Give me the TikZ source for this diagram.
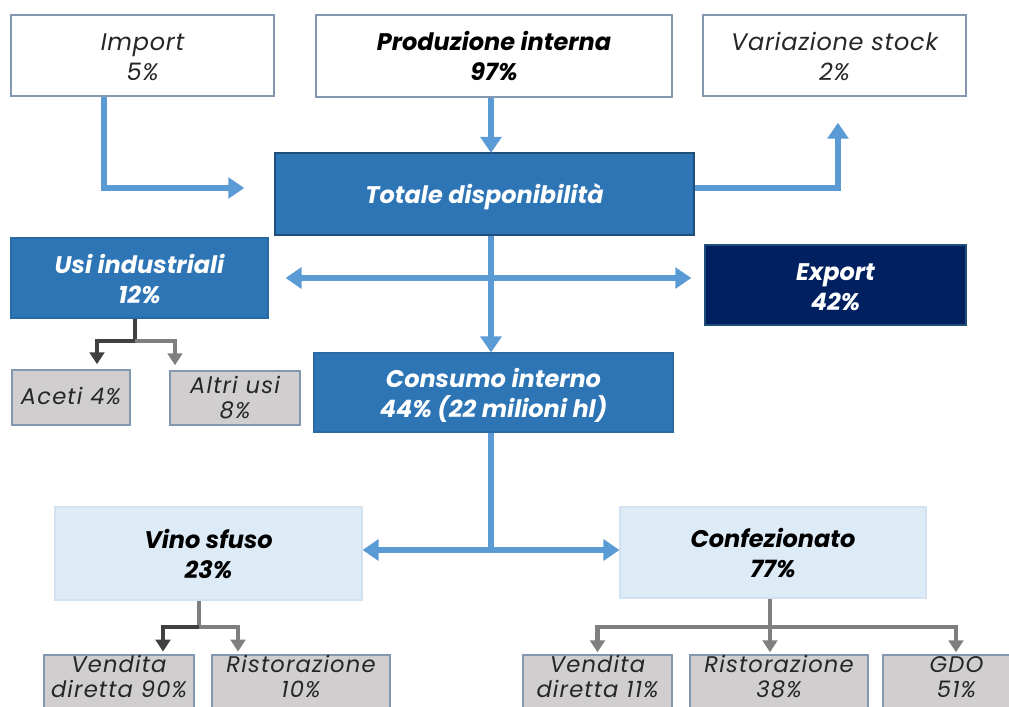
\documentclass[tikz,border=0pt]{standalone}
\usepackage{fontspec}
\setmainfont{Poppins}
\usetikzlibrary{arrows.meta}

\definecolor{flowblue}{HTML}{5B9BD5}
\definecolor{midblue}{HTML}{2E75B6}
\definecolor{midborder}{HTML}{1F4E79}
\definecolor{navy}{HTML}{002060}
\definecolor{paleblue}{HTML}{DDEBF7}
\definecolor{paleborder}{HTML}{D2E2F0}
\definecolor{boxgray}{HTML}{D0CECE}
\definecolor{slate}{HTML}{8497B0}
\definecolor{darkline}{HTML}{404040}
\definecolor{greyline}{HTML}{7F7F7F}
\definecolor{ink}{HTML}{262626}

\newcommand{\bigtext}{\fontsize{18}{22.5}\selectfont\itshape\addfontfeature{LetterSpace=3}}
\newcommand{\bigbold}{\fontsize{18}{22.5}\selectfont\bfseries\itshape}
\newcommand{\smalltext}{\fontsize{17}{18.75}\selectfont\itshape\addfontfeature{LetterSpace=5}}

\tikzset{
  sz/.style 2 args={minimum width=#1*0.75pt, minimum height=#2*0.75pt},
  boxbase/.style={inner sep=0pt},
  whitebox/.style={boxbase, draw=slate, line width=1.1pt, fill=white},
  bluebox/.style={boxbase, draw=midborder, line width=1.1pt, fill=midblue},
  usibox/.style={boxbase, draw=midblue!90!black, line width=0.8pt, fill=midblue},
  navybox/.style={boxbase, draw=midborder, line width=1.1pt, fill=navy},
  palebox/.style={boxbase, draw=paleborder, line width=0.8pt, fill=paleblue},
  greybox/.style={boxbase, draw=slate, line width=1.1pt, fill=boxgray},
  % labels: anchored on the baseline of their last line
  lbl/.style={inner sep=0pt, align=center, anchor=base},
  plainlbl/.style={lbl, font=\bigtext, text=ink},
  darklbl/.style={lbl, font=\bigbold, text=black},
  whitelbl/.style={lbl, font=\bigbold, text=white},
  smalllbl/.style={lbl, font=\smalltext, text=ink},
  bigtip/.style={Triangle[length=12pt,width=15.5pt]},
  flow/.style={draw=flowblue, line width=4.5pt, -{Triangle[length=12pt,width=15.5pt]}},
  flowboth/.style={draw=flowblue, line width=4.5pt, {Triangle[length=12pt,width=15.5pt]}-{Triangle[length=12pt,width=15.5pt]}},
  darktree/.style={draw=darkline, line width=3.5pt},
  greytree/.style={draw=greyline, line width=3.5pt},
  darktip/.style={darktree, -{Triangle[length=9pt,width=11pt]}},
  greytip/.style={greytree, -{Triangle[length=9pt,width=11pt]}},
}

\begin{document}
\begin{tikzpicture}[x=0.75pt,y=-0.75pt]
\useasboundingbox (0,0) rectangle (1009,706);
\clip (0,0) rectangle (1009,706);

% ---- boxes ----
\node[whitebox, sz={263}{81}] (imp) at (142.5,55.5) {};
\node[whitebox, sz={356}{82}] (prod) at (494,56) {};
\node[whitebox, sz={263}{81}] (var) at (834.5,55.5) {};
\node[bluebox, sz={419}{82}] (tot) at (484.5,194) {};
\node[usibox, sz={257}{80}] (usi) at (139.5,278) {};
\node[navybox, sz={261}{80}] (exp) at (835.5,285) {};
\node[usibox, sz={359}{79}] (cons) at (493.5,392.5) {};
\node[greybox, sz={118}{55}] (ace) at (71,397.5) {};
\node[greybox, sz={130}{54}] (alt) at (235,398) {};
\node[palebox, sz={307}{93}] (vino) at (208.5,553.5) {};
\node[palebox, sz={306}{91}] (conf) at (773,552.5) {};
\node[greybox, sz={150}{85}] (vd1) at (119,697.5) {};
\node[greybox, sz={178}{85}] (ri1) at (301,697.5) {};
\node[greybox, sz={149}{85}] (vd2) at (597.5,697.5) {};
\node[greybox, sz={178}{85}] (ri2) at (779,697.5) {};
\node[greybox, sz={147}{85}] (gdo) at (956.5,697.5) {};

% ---- labels ----
\node[plainlbl] (impt) at ([yshift=-18.75pt]imp.center) {Import\\5\%};
\node[darklbl] (prodt) at ([yshift=-18.75pt]prod.center) {Produzione interna\\97\%};
\node[plainlbl] (vart) at ([yshift=-18.75pt]var.center) {Variazione stock\\2\%};
\node[whitelbl] (tott) at ([yshift=-6.75pt]tot.center) {Totale disponibilità};
\node[whitelbl] (usit) at ([yshift=-18.75pt]usi.center) {Usi industriali\\12\%};
\node[whitelbl] (expt) at ([yshift=-18.75pt]exp.center) {Export\\42\%};
\node[whitelbl] (const) at ([yshift=-18.75pt]cons.center) {Consumo interno\\44\% (22 milioni hl)};
\node[smalllbl] (acet) at ([yshift=-5.6pt]ace.center) {Aceti 4\%};
\node[smalllbl] (altt) at ([yshift=-15pt]alt.center) {Altri usi\\8\%};
\node[darklbl] (vinot) at ([yshift=-18.75pt]vino.center) {Vino sfuso\\23\%};
\node[darklbl] (conft) at ([yshift=-18.75pt]conf.center) {Confezionato\\77\%};
\node[smalllbl] (vd1t) at ([yshift=-32.5pt]vd1.north) {Vendita\\diretta 90\%};
\node[smalllbl] (ri1t) at ([yshift=-32.5pt]ri1.north) {Ristorazione\\10\%};
\node[smalllbl] (vd2t) at ([yshift=-32.5pt]vd2.north) {Vendita\\diretta 11\%};
\node[smalllbl] (ri2t) at ([yshift=-32.5pt]ri2.north) {Ristorazione\\38\%};
\node[smalllbl] (gdot) at ([yshift=-32.5pt]gdo.north) {GDO\\51\%};

% ---- blue flows ----
\coordinate (hub) at (491,278);
\coordinate (split) at (491,550);
\draw[flow] ([xshift=-28.9pt]imp.south) |- ([xshift=-22.5pt,yshift=4.5pt]tot.west);
\draw[flow] (prod.south -| hub) -- ([yshift=-0.5pt]tot.north -| hub);
\draw[flow] ([yshift=4.5pt]tot.east) -| ([xshift=2.6pt,yshift=-19.5pt]var.south);
\draw[flowboth] ([xshift=12.75pt]hub -| usi.east) -- ([xshift=-9.75pt]hub -| exp.west);
\draw[flow] (tot.south -| hub) -- (cons.north -| hub);
\draw[draw=flowblue, line width=4.5pt] (cons.south -| split) -- (split);
\draw[flowboth] (split -| vino.east) -- (split -| conf.west);

% ---- grey trees ----
\coordinate (ub) at (135,341);
\draw[darktree] (usi.south -| ub) -- (ub);
\draw[darktip] (ub) -| ([xshift=19.5pt,yshift=3.75pt]ace.north);
\draw[greytip] (ub) -| ([xshift=-45pt,yshift=3.75pt]alt.north);

\coordinate (vb) at (199,627);
\draw[greytree] (vino.south -| vb) -- (vb);
\draw[darktip] (vb) -| ([xshift=33pt,yshift=2pt]vd1.north);
\draw[greytip] (vb) -| ([xshift=-47.25pt,yshift=2pt]ri1.north);

\coordinate (cb) at (770,627);
\draw[greytree] (conf.south -| cb) -- (cb);
\draw[greytip] (cb) -| ([yshift=1.5pt]vd2.north);
\draw[greytip] (cb) -- ([yshift=1.5pt]vd2.north -| cb);
\draw[greytip] (cb) -| ([xshift=-0.4pt,yshift=1.5pt]gdo.north);
\end{tikzpicture}
\end{document}
